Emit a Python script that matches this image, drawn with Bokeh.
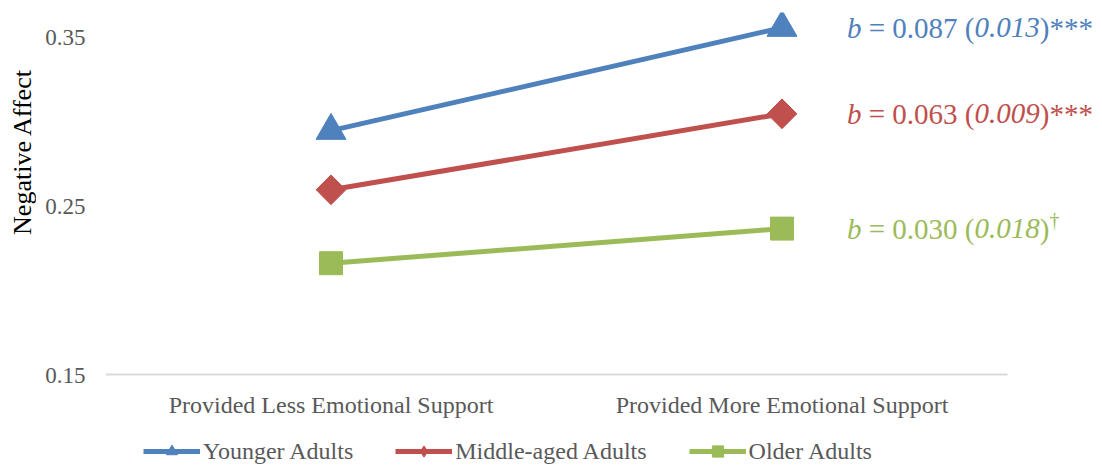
import math
from bokeh.plotting import figure
from bokeh.models import Legend, LegendItem, Label, FixedTicker, Range1d
from bokeh.layouts import column, row
from bokeh.embed import file_html
from bokeh.resources import INLINE

# ---- data ----
categories = ["Provided Less Emotional Support", "Provided More Emotional Support"]
series_names = ["Younger Adults", "Middle-aged Adults", "Older Adults"]
younger = [0.295, 0.356]
middle = [0.260, 0.305]
older = [0.2165, 0.237]
b_values = ["0.087", "0.063", "0.030"]
se_values = ["0.013", "0.009", "0.018"]
sig_marks = ["***", "***", "\u2020"]
y_ticks = [0.15, 0.25, 0.35]
y_title = "Negative Affect"

# ---- styles ----
FONT = "Liberation Serif"
colors = ["#4F81BD", "#C0504D", "#9BBB59"]
markers = ["triangle", "square", "square"]
legend_markers = ["triangle", "diamond", "square"]
marker_sizes = [30, 21, 23]
marker_angles = [0, math.pi / 4, 0]
GRAY = "#595959"

TOTAL_W, TOTAL_H = 1102, 472
LAB_W = 36
MAIN_H = 430
LEG_H = TOTAL_H - MAIN_H

x_pos = [i + 0.5 for i in range(len(categories))]
X_END = len(categories) * 997 / 902   # frame runs on past the last category for the notes

# ---------- y-title strip ----------
lab = figure(width=LAB_W, height=MAIN_H, x_range=Range1d(0, LAB_W), y_range=Range1d(0, MAIN_H),
             x_axis_location=None, y_axis_location=None,
             output_backend="svg", toolbar_location=None,
             min_border=0, min_border_left=0, min_border_right=0,
             min_border_top=0, min_border_bottom=0)
lab.outline_line_color = None
lab.grid.visible = False
lab.add_layout(Label(x=22, y=MAIN_H - 165, text=y_title, angle=math.pi / 2,
                     text_align="center", text_baseline="middle",
                     text_font=FONT, text_font_size="26px", text_color="black"))

# ---------- main plot ----------
p = figure(
    x_range=Range1d(0, X_END),
    y_range=Range1d(0.15, 0.365),
    width=TOTAL_W - LAB_W, height=MAIN_H,
    output_backend="svg", toolbar_location=None,
    min_border_left=105 - LAB_W, min_border_right=0,
    min_border_top=12, min_border_bottom=MAIN_H - 375,
)
p.outline_line_color = None
p.xgrid.visible = False
p.ygrid.visible = False

p.xaxis.ticker = FixedTicker(ticks=x_pos)
p.xaxis.major_label_overrides = {x: c for x, c in zip(x_pos, categories)}
p.xaxis.axis_line_color = None
p.xaxis.major_tick_line_color = None
p.xaxis.major_tick_out = 0
p.xaxis.major_tick_in = 0
p.xaxis.minor_tick_line_color = None
p.xaxis.major_label_text_font = FONT
p.xaxis.major_label_text_font_size = "24px"
p.xaxis.major_label_text_color = GRAY
p.xaxis.major_label_standoff = 16

# category-axis baseline spanning the categories only
p.segment(x0=[0], y0=[y_ticks[0]], x1=[len(categories)], y1=[y_ticks[0]],
          line_color="#D9D9D9", line_width=4)

p.yaxis.ticker = FixedTicker(ticks=y_ticks)
p.yaxis.axis_line_color = None
p.yaxis.major_tick_line_color = None
p.yaxis.major_tick_out = 0
p.yaxis.major_tick_in = 0
p.yaxis.minor_tick_line_color = None
p.yaxis.major_label_text_font = FONT
p.yaxis.major_label_text_font_size = "23px"
p.yaxis.major_label_text_color = GRAY
p.yaxis.major_label_standoff = 20

series = [younger, middle, older]
for vals, col, mk, ms, ang in zip(series, colors, markers, marker_sizes, marker_angles):
    p.line(x_pos, vals, line_color=col, line_width=5)
    p.scatter(x_pos, vals, marker=mk, size=ms, angle=ang, fill_color=col, line_color=col)

# slope annotations
FS = 29
em = FS
base_off = 65
o_eq = 0.5 + 0.25
o_se = 0.5 + 1.064 + 2.25 + 0.583
o_cp = o_se + 2.25
o_sig = o_cp + 0.333
for vals, col, bv, se, sig in zip(series, colors, b_values, se_values, sig_marks):
    y = vals[-1]
    x = x_pos[-1]
    pieces = [("b", "italic", 0.0), ("= " + bv + " (", "normal", o_eq),
              (se, "italic", o_se), (")", "normal", o_cp)]
    for txt, style, off in pieces:
        p.add_layout(Label(x=x, y=y, text=txt, x_offset=base_off + off * em,
                           text_baseline="middle", text_align="left",
                           text_font=FONT, text_font_size=f"{FS}px",
                           text_font_style=style, text_color=col))
    if sig == "\u2020":
        p.add_layout(Label(x=x, y=y, text=sig, x_offset=base_off + o_sig * em, y_offset=9,
                           text_baseline="middle", text_align="left",
                           text_font=FONT, text_font_size="20px", text_color=col))
    else:
        p.add_layout(Label(x=x, y=y, text=sig, x_offset=base_off + o_sig * em,
                           text_baseline="middle", text_align="left",
                           text_font=FONT, text_font_size=f"{FS}px", text_color=col))

# ---------- legend strip ----------
leg = figure(width=TOTAL_W, height=LEG_H, x_range=Range1d(0, 1), y_range=Range1d(0, 1),
             x_axis_location=None, y_axis_location=None,
             output_backend="svg", toolbar_location=None,
             min_border=0, min_border_left=0, min_border_right=0,
             min_border_top=0, min_border_bottom=0)
leg.outline_line_color = None
leg.grid.visible = False
items = []
for name, col, mk in zip(series_names, colors, legend_markers):
    # legend-only renderers: NaN keeps them invisible in the strip itself
    ln = leg.line(x=[math.nan], y=[math.nan], line_color=col, line_width=5)
    sc = leg.scatter(x=[math.nan], y=[math.nan], marker=mk, size=14,
                     fill_color=col, line_color=col)
    items.append(LegendItem(label=name, renderers=[ln, sc]))
legend = Legend(items=items, orientation="horizontal", location="left",
                glyph_width=57, glyph_height=28, label_standoff=3, spacing=42,
                padding=0, margin=143, border_line_color=None, background_fill_alpha=0,
                label_text_font=FONT, label_text_font_size="24px", label_text_color=GRAY)
leg.add_layout(legend, "center")

layout = column(row(lab, p, spacing=0), leg, spacing=0)
open("out.html", "w").write(file_html(layout, INLINE))
